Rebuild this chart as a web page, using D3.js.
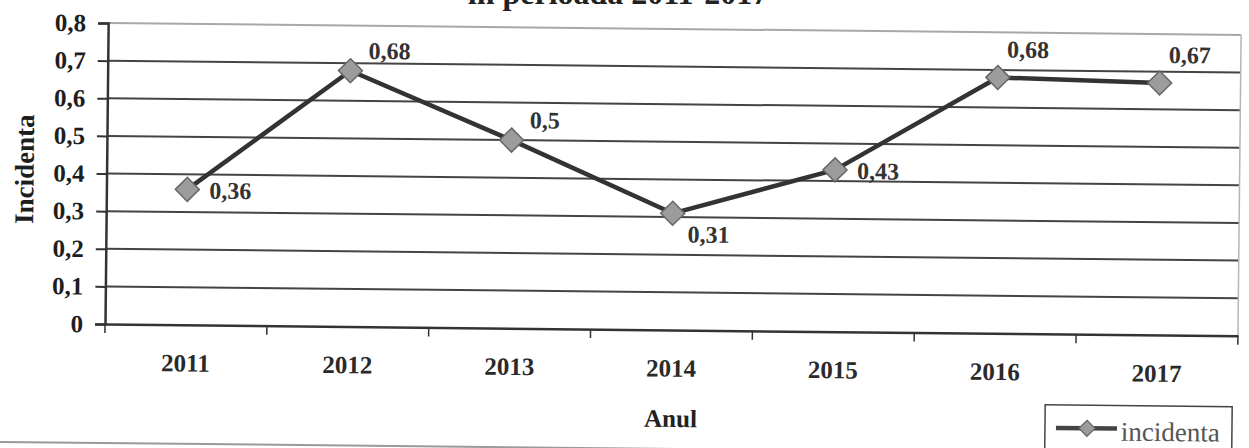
<!DOCTYPE html>
<html>
<head>
<meta charset="utf-8">
<script src="https://cdn.jsdelivr.net/npm/d3@7"></script>
<style>
  html, body { margin: 0; padding: 0; background: #fff; }
  svg { display: block; }
  text { font-family: "Liberation Serif", "Times New Roman", serif; }
</style>
</head>
<body>
<svg id="chart" width="1249" height="448"></svg>
<script>
// Incidence per year, 2011-2017
const years = ['2011', '2012', '2013', '2014', '2015', '2016', '2017'];
const incidenta = [0.36, 0.68, 0.5, 0.31, 0.43, 0.68, 0.67];
const yTickValues = [0, 0.1, 0.2, 0.3, 0.4, 0.5, 0.6, 0.7, 0.8];
// where each value label sits relative to its marker
const labelPlacement = ['right', 'upright', 'upright', 'below', 'right', 'up', 'up'];

const W = 1249, H = 448;
const plot = { left: 105, right: 1238, top: 23, bottom: 324 };

const svg = d3.select('#chart');
svg.append('rect').attr('width', W).attr('height', H).attr('fill', '#fff');

// title (second line only; first line lies above the page edge)
svg.append('text')
  .attr('x', 618).attr('y', 4)
  .attr('text-anchor', 'middle')
  .attr('font-size', 32).attr('font-weight', 'bold')
  .attr('fill', '#222')
  .text('in perioada 2011-2017');

// the printed chart sits slightly tilted on the page
const g = svg.append('g').attr('transform', `rotate(0.6 ${plot.left} ${plot.bottom})`);

const x = d3.scaleBand().domain(years).range([plot.left, plot.right]);
const y = d3.scaleLinear().domain([0, 0.8]).range([plot.bottom, plot.top]);
const cx = d => x(d) + x.bandwidth() / 2;
const fmt = v => v === 0 ? '0' : String(v).replace('.', ',');

// outer chart frame (bottom edge)
g.append('line')
  .attr('x1', -10).attr('x2', 1046)
  .attr('y1', 443).attr('y2', 443)
  .attr('stroke', '#9a9a9a').attr('stroke-width', 2);

// horizontal gridlines
g.append('g').selectAll('line')
  .data(yTickValues.filter(v => v > 0))
  .join('line')
  .attr('x1', plot.left).attr('x2', plot.right)
  .attr('y1', d => y(d)).attr('y2', d => y(d))
  .attr('stroke', d => d === 0.8 ? '#a8a8a8' : '#444')
  .attr('stroke-width', 2);

// right edge of the plot area
g.append('line')
  .attr('x1', plot.right).attr('x2', plot.right)
  .attr('y1', plot.top).attr('y2', plot.bottom)
  .attr('stroke', '#b5b5b5').attr('stroke-width', 1.5);

// y axis
const yAxis = g.append('g')
  .attr('transform', `translate(${plot.left},0)`)
  .call(d3.axisLeft(y).tickValues(yTickValues).tickFormat(fmt).tickSize(10).tickPadding(12));
yAxis.select('.domain').attr('stroke', '#333').attr('stroke-width', 2.5);
yAxis.selectAll('.tick line').attr('stroke', '#333').attr('stroke-width', 2);
yAxis.selectAll('.tick text')
  .attr('font-size', 25).attr('font-weight', 'bold').attr('fill', '#1e1e1e')
  .style('font-family', '"Liberation Serif", serif');

// x axis with category labels
const xAxis = g.append('g')
  .attr('transform', `translate(0,${plot.bottom})`)
  .call(d3.axisBottom(x).tickSize(0).tickPadding(29));
xAxis.select('.domain').attr('stroke', '#333').attr('stroke-width', 2.5);
xAxis.selectAll('.tick text')
  .attr('font-size', 25).attr('font-weight', 'bold').attr('fill', '#2a2a2a')
  .style('font-family', '"Liberation Serif", serif');

// tick marks between categories
g.append('g').selectAll('line')
  .data(years.map(d => x(d)).concat([plot.right]))
  .join('line')
  .attr('x1', d => d).attr('x2', d => d)
  .attr('y1', plot.bottom).attr('y2', plot.bottom + 9)
  .attr('stroke', '#333').attr('stroke-width', 1.5);

// axis titles
g.append('text')
  .attr('transform', `translate(32,170) rotate(-90)`)
  .attr('text-anchor', 'middle')
  .attr('font-size', 27).attr('font-weight', 'bold').attr('fill', '#1e1e1e')
  .text('Incidenta');

g.append('text')
  .attr('x', (plot.left + plot.right) / 2).attr('y', 421)
  .attr('text-anchor', 'middle')
  .attr('font-size', 25).attr('font-weight', 'bold').attr('fill', '#222')
  .text('Anul');

// series line
const pts = years.map((d, i) => ({ year: d, v: incidenta[i], pos: labelPlacement[i] }));
g.append('path')
  .datum(pts)
  .attr('fill', 'none')
  .attr('stroke', '#333').attr('stroke-width', 4.5)
  .attr('stroke-linejoin', 'round')
  .attr('d', d3.line().x(d => cx(d.year)).y(d => y(d.v)));

// diamond markers
const diamond = r => `M0,${-r}L${r},0L0,${r}L${-r},0Z`;
g.append('g').selectAll('path')
  .data(pts)
  .join('path')
  .attr('transform', d => `translate(${cx(d.year)},${y(d.v)})`)
  .attr('d', diamond(12))
  .attr('fill', '#9c9c9c').attr('stroke', '#666').attr('stroke-width', 1.5);

// value labels
const offsets = {
  right:   { dx: 22, dy: 9 },
  upright: { dx: 18, dy: -12 },
  below:   { dx: 15, dy: 29 },
  up:      { dx: 9, dy: -20 }
};
g.append('g').selectAll('text')
  .data(pts)
  .join('text')
  .attr('x', d => cx(d.year) + offsets[d.pos].dx)
  .attr('y', d => y(d.v) + offsets[d.pos].dy)
  .attr('font-size', 24).attr('font-weight', 'bold').attr('fill', '#333')
  .text(d => fmt(d.v));

// legend
const lg = g.append('g');
lg.append('rect')
  .attr('x', 1046).attr('y', 395).attr('width', 187).attr('height', 70)
  .attr('fill', '#fff').attr('stroke', '#444').attr('stroke-width', 1.5);
lg.append('line')
  .attr('x1', 1057).attr('x2', 1118).attr('y1', 418).attr('y2', 418)
  .attr('stroke', '#444').attr('stroke-width', 4.5);
lg.append('path')
  .attr('transform', 'translate(1088,418)')
  .attr('d', diamond(8))
  .attr('fill', '#9c9c9c').attr('stroke', '#666').attr('stroke-width', 1.2);
lg.append('text')
  .attr('x', 1122).attr('y', 430)
  .attr('font-size', 27).attr('fill', '#555')
  .text('incidenta');
</script>
</body>
</html>
